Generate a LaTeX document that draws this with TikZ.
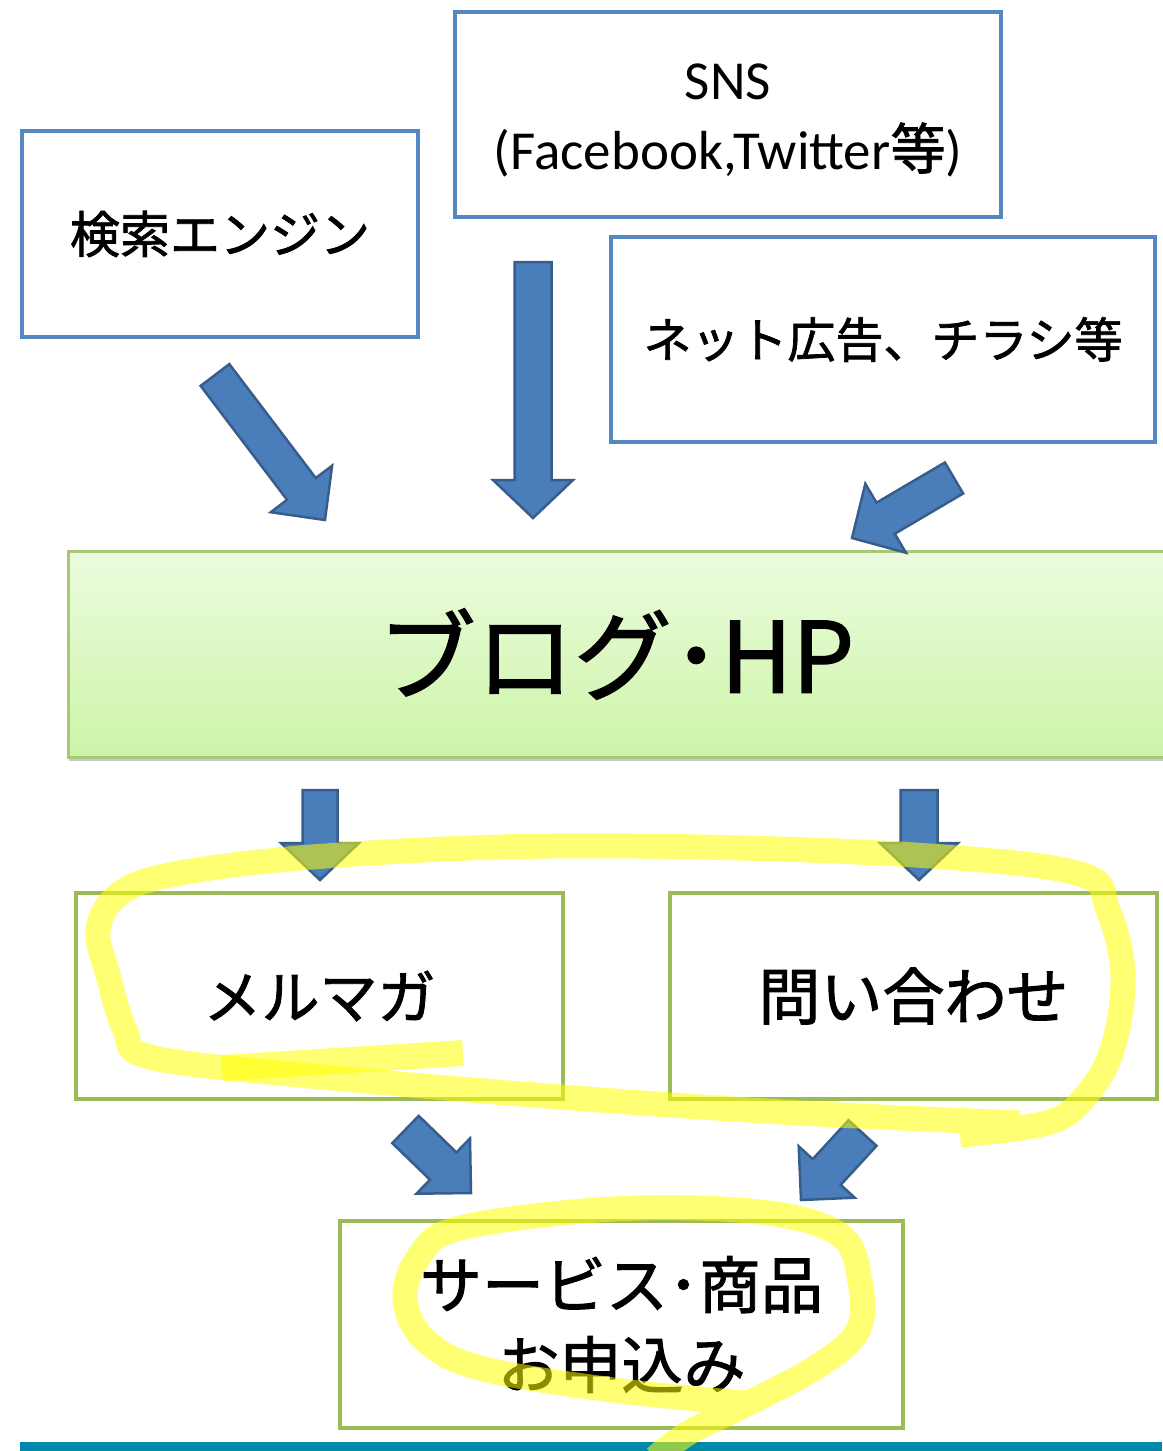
\documentclass[tikz,border=0pt]{standalone}
\usepackage{fontspec}
\setmainfont{Carlito}
\newfontfamily\jpfont[FakeBold=1.5]{Noto Sans CJK JP}
\usetikzlibrary{calc,shadows}
\definecolor{boxblue}{RGB}{85,135,195}
\definecolor{arrowfill}{RGB}{74,126,187}
\definecolor{arrowline}{RGB}{56,93,138}
\definecolor{boxgreen}{RGB}{155,187,89}
\definecolor{blogline}{RGB}{168,200,120}
\definecolor{blogtop}{RGB}{236,251,222}
\definecolor{blogbot}{RGB}{204,245,168}
\definecolor{tealbar}{RGB}{0,136,170}
\definecolor{hilite}{RGB}{255,255,0}
\tikzset{
  bluebox/.style={draw=boxblue, line width=4pt, fill=white, inner sep=0pt, align=center},
  greenbox/.style={draw=boxgreen, line width=4.5pt, fill=white, inner sep=0pt, align=center},
  barrow/.style={fill=arrowfill, draw=arrowline, line width=2.5pt, line join=miter},
  hl/.style={draw=hilite, draw opacity=0.55, line width=25pt, line cap=butt, line join=round},
}
% block arrow: tail, tip, shaft half width, head half width, head length
\newcommand\blockarrow[5]{%
  \draw[barrow] let \p1=($(#2)-(#1)$), \n1={atan2(\y1,\x1)}, \n2={veclen(\x1,\y1)-#5} in
    ($(#1)+({\n1+90}:#3pt)$) --
    ($(#1)+({\n1}:\n2)+({\n1+90}:#3pt)$) --
    ($(#1)+({\n1}:\n2)+({\n1+90}:#4pt)$) --
    (#2) --
    ($(#1)+({\n1}:\n2)+({\n1-90}:#4pt)$) --
    ($(#1)+({\n1}:\n2)+({\n1-90}:#3pt)$) --
    ($(#1)+({\n1-90}:#3pt)$) -- cycle;}
\begin{document}
\begin{tikzpicture}[x=1pt,y=-1pt]
\useasboundingbox (0,0) rectangle (1162,1451);
\fill[white] (0,0) rectangle (1162,1451);

% source boxes
\node[bluebox, minimum width=396pt, minimum height=206pt,
      font=\jpfont\fontsize{50}{60}\selectfont] (kensaku) at (220,234) {検索エンジン};
\node[bluebox, minimum width=546pt, minimum height=205pt] (sns) at (728,114.5) {};
\node[align=center, inner sep=0pt, font=\fontsize{55}{70}\selectfont]
      (snstext) at (728,120) {SNS\\(Facebook,Twitter{\jpfont 等})};
\node[bluebox, minimum width=544pt, minimum height=205pt,
      font=\jpfont\fontsize{48}{58}\selectfont] (net) at (883,339.5) {ネット広告、チラシ等};

% blog box
\node[draw=blogline, line width=3pt, top color=blogtop, bottom color=blogbot,
      minimum width=1096pt, minimum height=206pt, inner sep=0pt,
      drop shadow={shadow xshift=1pt, shadow yshift=-4pt, fill=black!45, opacity=0.45},
      font=\jpfont\fontsize{98}{100}\selectfont] (blog) at (616,654) {ブログ･HP};

% middle boxes
\node[greenbox, minimum width=487pt, minimum height=206pt,
      font=\jpfont\fontsize{58}{66}\selectfont] (merumaga) at (319.5,996) {メルマガ};
\node[greenbox, minimum width=487pt, minimum height=206pt,
      font=\jpfont\fontsize{62}{70}\selectfont] (toiawase) at (913.5,996) {問い合わせ};

% final box
\node[greenbox, minimum width=563pt, minimum height=207pt,
      font=\jpfont\fontsize{62}{80}\selectfont] (service) at (621.5,1324.5) {サービス･商品\\お申込み};

% arrow end points
\coordinate (a1t) at (215,375);   \coordinate (a1h) at (325,520);
\coordinate (a2t) at (533,262);   \coordinate (a2h) at (533,518);
\coordinate (a3t) at (954,478);   \coordinate (a3h) at (852,538);
\coordinate (a4t) at (320,790);   \coordinate (a4h) at (320,880);
\coordinate (a5t) at (919,790);   \coordinate (a5h) at (919,880);
\coordinate (a6t) at (405.5,1129.5); \coordinate (a6h) at (471,1193);
\coordinate (a7t) at (862.5,1133);   \coordinate (a7h) at (801,1200);

\blockarrow{a1t}{a1h}{18}{38.5}{39}
\blockarrow{a2t}{a2h}{18.5}{40}{38}
\blockarrow{a3t}{a3h}{18}{40}{39}
\blockarrow{a4t}{a4h}{17.5}{39}{37}
\blockarrow{a5t}{a5h}{18.5}{39}{37}
\blockarrow{a6t}{a6h}{19}{38.5}{38.5}
\blockarrow{a7t}{a7h}{19}{38}{38}

% bottom bar
\fill[tealbar] (20,1442) rectangle (1162,1451);

% highlighter strokes
\draw[hl] plot[smooth, tension=0.6] coordinates {
  (1020,1123) (800,1113) (560,1097) (300,1075) (150,1057) (125,1030)
  (108,975) (98,930) (118,895) (170,875) (300,858) (500,847) (700,847)
  (930,856) (1080,874) (1108,910) (1123,975) (1113,1047) (1088,1093)
  (1050,1122) (960,1135)};
\draw[hl, line width=26pt] (222,1068) -- (463,1053);
\draw[hl] plot[smooth, tension=0.6] coordinates {
  (745,1403) (613,1390) (480,1368) (425,1340) (405,1300) (418,1258)
  (460,1228) (613,1209) (760,1212) (840,1235) (860,1282) (858,1330)
  (818,1366) (745,1405) (690,1432) (655,1458)};
\end{tikzpicture}
\end{document}
